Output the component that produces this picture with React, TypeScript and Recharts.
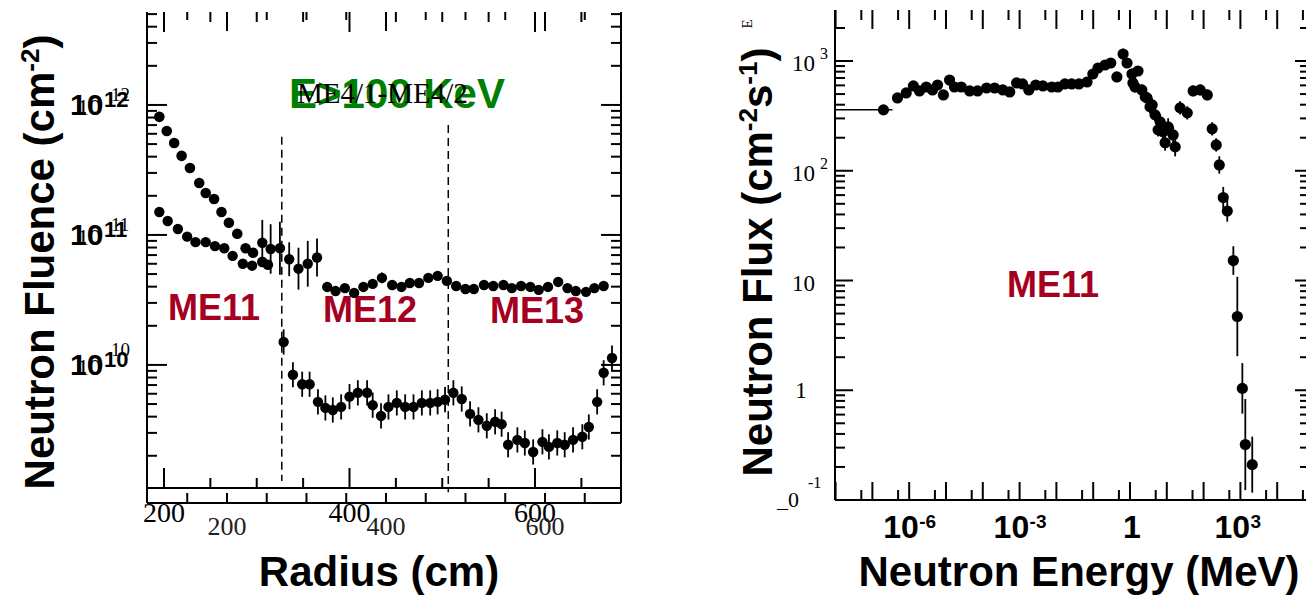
import React from "react";
import { ComposedChart, Scatter, XAxis, YAxis, ErrorBar, ReferenceLine } from "recharts";

const SANS = "'Liberation Sans', Arial, sans-serif";
const SERIF = "'Liberation Serif', 'Times New Roman', serif";
const CRIMSON = "#a50021";
const GREEN = "#008000";

// ---------- left panel: neutron fluence vs radius ----------
// steep ME11 branch
const me11Radius = [195, 203, 211, 219, 228, 238, 245, 254, 262, 270, 279, 288, 296, 306, 312];
const me11Fluence = [8.1e11, 6.3e11, 5.1e11, 4.06e11, 3.27e11, 2.51e11, 2.1e11, 1.89e11, 1.5e11, 1.24e11, 1.02e11, 7.9e10, 7.3e10, 6.2e10, 5.9e10];

// upper circles (E > 100 keV)
const ringRadius = [195, 204, 215, 225, 234, 245, 255, 265, 274, 285, 295, 306, 315, 325, 335, 345, 355, 365, 376, 385, 395, 405, 415, 425, 435, 446, 456, 465, 475, 485, 495, 505, 515, 525, 534, 545, 555, 566, 575, 585, 595, 604, 614, 625, 635, 644, 655, 664, 674];
const ringFluence = [1.5e11, 1.28e11, 1.11e11, 9.7e10, 8.8e10, 8.8e10, 8.2e10, 7.9e10, 6.9e10, 6.0e10, 5.8e10, 8.7e10, 7.8e10, 7.9e10, 6.5e10, 5.5e10, 6.0e10, 6.7e10, 3.98e10, 3.7e10, 3.9e10, 3.58e10, 3.98e10, 4.2e10, 4.67e10, 4.12e10, 3.98e10, 4.27e10, 4.27e10, 4.67e10, 4.84e10, 4.43e10, 4.05e10, 3.84e10, 3.84e10, 4.12e10, 4.05e10, 4.12e10, 3.9e10, 4.05e10, 3.98e10, 3.78e10, 3.98e10, 4.35e10, 3.9e10, 3.7e10, 3.65e10, 3.9e10, 4.05e10];
const ringErr = [1, 1, 1, 1, 1, 1, 1, 1, 1, 1, 1, 1.5, 1.55, 1.6, 1.35, 1.45, 1.5, 1.4, 1.05, 1.05, 1.05, 1.05, 1.05, 1.05, 1.1, 1.05, 1.05, 1.05, 1.05, 1.05, 1.08, 1.05, 1.05, 1.05, 1.05, 1.05, 1.05, 1.05, 1.05, 1.08, 1.05, 1.05, 1.05, 1.05, 1.05, 1.05, 1.05, 1.05, 1.05];

// lower series (ME4/1-ME4/2)
const lowRadius = [329, 339, 349, 357, 366, 374, 382, 391, 400, 409, 419, 425, 434, 442, 451, 460, 469, 478, 487, 495, 503, 512, 521, 530, 539, 548, 557, 564, 571, 581, 589, 598, 608, 615, 624, 632, 641, 651, 658, 667, 674, 683];
const lowFluence = [1.5e10, 8.4e9, 7.1e9, 7.1e9, 5.2e9, 4.67e9, 4.5e9, 4.75e9, 5.7e9, 6.1e9, 6.1e9, 4.9e9, 4.05e9, 4.75e9, 5.1e9, 4.75e9, 4.75e9, 5.1e9, 5.1e9, 5.2e9, 5.4e9, 6.1e9, 5.47e9, 4.2e9, 3.78e9, 3.4e9, 3.65e9, 3.5e9, 2.43e9, 2.65e9, 2.51e9, 2.14e9, 2.56e9, 2.34e9, 2.51e9, 2.43e9, 2.65e9, 2.8e9, 3.33e9, 5.2e9, 8.7e9, 1.13e10];
const lowErrY = 1.25;
const lowErrX = 5;

const chamberEdges = [327, 506.5];
const radiusTicks = [200, 250, 300, 350, 400, 450, 500, 550, 600, 650];
const radiusTicks2 = [150, 200, 250, 300, 350, 400, 450, 500, 550, 600, 650];
const radiusLabels = [200, 400, 600];
const fluenceDecades = [9, 10, 11, 12];
const fluenceLabels = [10, 11, 12];

// ---------- right panel: neutron flux vs energy ----------
const energy = [2.0e-7, 4.8e-7, 8.3e-7, 1.3e-6, 1.9e-6, 2.9e-6, 4.3e-6, 5.9e-6, 8.5e-6, 1.25e-5, 1.7e-5, 2.6e-5, 4.4e-5, 7.2e-5, 1.27e-4, 2.1e-4, 3.5e-4, 5.4e-4, 8.3e-4, 1.2e-3, 1.78e-3, 2.75e-3, 4.3e-3, 7.5e-3, 0.011, 0.017, 0.026, 0.041, 0.068, 0.098, 0.135, 0.21, 0.3, 0.44, 0.65, 0.83, 1.13, 1.65, 1.37, 2.1, 2.9, 4.0, 4.8, 6.6, 7.9, 10.9, 14.9, 16.9, 23, 36, 52, 81, 126, 171, 220, 267, 342, 440, 643, 825, 1130, 1360, 2100, 2.6, 5.8, 9.0, 3.5, 1.2];
const flux = [359, 461, 512, 593, 534, 580, 545, 605, 491, 671, 580, 580, 534, 534, 568, 568, 545, 523, 631, 618, 545, 605, 593, 580, 580, 618, 618, 618, 644, 762, 863, 920, 959, 716, 1158, 959, 762, 811, 580, 545, 461, 398, 323, 279, 226, 251, 212, 165, 374, 337, 534, 545, 491, 241, 172, 113, 57, 43, 15.2, 4.7, 1.04, 0.32, 0.21, 471, 236, 180, 382, 631];
const fluxErr = [1.04, 1.05, 1.05, 1.06, 1.06, 1.06, 1.06, 1.06, 1.06, 1.06, 1.06, 1.06, 1.06, 1.06, 1.06, 1.06, 1.06, 1.06, 1.06, 1.06, 1.06, 1.06, 1.06, 1.06, 1.06, 1.06, 1.06, 1.06, 1.06, 1.07, 1.07, 1.07, 1.08, 1.1, 1.12, 1.1, 1.12, 1.1, 1.12, 1.12, 1.12, 1.15, 1.15, 1.18, 1.2, 1.2, 1.2, 1.22, 1.15, 1.15, 1.12, 1.12, 1.12, 1.15, 1.15, 1.2, 1.25, 1.25, 1.35, 2.3, 1.7, 2.6, 1.8, 1.12, 1.15, 1.18, 1.15, 1.12];
const firstBin = [1.9e-7, 1.5e-7];
const energyDecades = [-9, -8, -7, -6, -5, -4, -3, -2, -1, 0, 1, 2, 3, 4];
const energyLabels: [number, string, string][] = [[1e-6, "10", "-6"], [1e-3, "10", "-3"], [1, "1", ""], [1e3, "10", "3"]];
const fluxDecades = [-1, 0, 1, 2, 3];

// ---------- derived tables ----------
const me11Data = me11Radius.map((r, i) => ({ r, v: me11Fluence[i] }));
const ringData = ringRadius.map((r, i) => {
  const v = ringFluence[i];
  const f = ringErr[i];
  return { r, v, ey: [v - v / f, v * f - v] };
});
const lowData = lowRadius.map((r, i) => {
  const v = lowFluence[i];
  return { r, v, ey: [v - v / lowErrY, v * lowErrY - v], ex: lowErrX };
});
const fluxData = energy.map((e, i) => {
  const f = flux[i];
  const k = fluxErr[i];
  return { e, f, ey: [f - f / k, f * k - f], ex: i === 0 ? firstBin : [0, 0] };
});

const FL_DOMAIN: [number, number] = [1.13e9, 5.19e12];
const R_DOMAIN: [number, number] = [181.7, 692.7];
const R2_DOMAIN: [number, number] = [99.4, 695.6];
const E_DOMAIN: [number, number] = [9.64e-9, 68700];
const F_DOMAIN: [number, number] = [0.1, 2917];
// plot-box sizes that follow from the margins / axis sizes below
const LW = 474, LH = 476;
const RW = 473, RH = 490;

const isDecade = (v: number) => Math.abs(Math.log10(v) - Math.round(Math.log10(v))) < 1e-6;
const logTicks = (decades: number[], mult: number[], lo: number, hi: number) =>
  decades.flatMap((k) => mult.map((m) => m * Math.pow(10, k))).filter((v) => v >= lo * 0.9999 && v <= hi);

const fluenceTicks = logTicks(fluenceDecades, [1, 2, 3, 4, 5, 6, 7, 8, 9], ...FL_DOMAIN);
const fluxTicks = logTicks(fluxDecades, [1, 2, 3, 4, 5, 6, 7, 8, 9], ...F_DOMAIN);
const energyTicks = logTicks(energyDecades, [1, 5], ...E_DOMAIN);

const logMove = (v: number, d: [number, number], span: number, px: number) =>
  v * Math.pow(10, (px * Math.log10(d[1] / d[0])) / span);
const linLen = (d: [number, number], span: number, px: number) => (px * (d[1] - d[0])) / span;
const r2ToR = (t: number) => R_DOMAIN[0] + ((t - R2_DOMAIN[0]) * (R_DOMAIN[1] - R_DOMAIN[0])) / (R2_DOMAIN[1] - R2_DOMAIN[0]);

// frame tick marks, drawn as error bars of invisible points that sit just inside the frame
const [R0, R1] = R_DOMAIN;
const [FL0, FL1] = FL_DOMAIN;
const Z = [0, 0];
const fluenceFrameTicks = [
  ...fluenceTicks.map((v) => {
    const d = linLen(R_DOMAIN, LW, isDecade(v) ? 20 : 10);
    return { r: R0 + d, v, ex: [d, 0], ey: Z };
  }),
  ...fluenceTicks.map((v) => {
    const d = linLen(R_DOMAIN, LW, isDecade(v) ? 20 : 10);
    return { r: R1 - d, v, ex: [0, d], ey: Z };
  }),
  ...radiusTicks.map((t) => {
    const a = logMove(FL0, FL_DOMAIN, LH, radiusLabels.includes(t) ? 20 : 10);
    return { r: t, v: a, ex: Z, ey: [a - FL0, 0] };
  }),
  ...radiusTicks.map((t) => {
    const a = logMove(FL1, FL_DOMAIN, LH, radiusLabels.includes(t) ? -20 : -10);
    return { r: t, v: a, ex: Z, ey: [0, FL1 - a] };
  }),
  ...radiusTicks2.map((t) => {
    const a = logMove(FL1, FL_DOMAIN, LH, radiusLabels.includes(t) ? -19 : -8);
    return { r: r2ToR(t), v: a, ex: Z, ey: [0, FL1 - a] };
  }),
];
const [E0, E1] = E_DOMAIN;
const [F0, F1] = F_DOMAIN;
const fluxFrameTicks = [
  ...fluxTicks.map((f) => {
    const a = logMove(E0, E_DOMAIN, RW, isDecade(f) ? 18 : 10);
    return { e: a, f, ex: [a - E0, 0], ey: Z };
  }),
  ...fluxTicks.map((f) => {
    const a = logMove(E1, E_DOMAIN, RW, isDecade(f) ? -13 : -8);
    return { e: a, f, ex: [0, E1 - a], ey: Z };
  }),
  ...energyTicks.map((e) => {
    const a = logMove(F0, F_DOMAIN, RH, isDecade(e) ? 18 : 10);
    return { e, f: a, ex: Z, ey: [a - F0, 0] };
  }),
  ...energyTicks.map((e) => {
    const a = logMove(F1, F_DOMAIN, RH, isDecade(e) ? -19 : -10);
    return { e, f: a, ex: Z, ey: [0, F1 - a] };
  }),
];

const dot = (r: number) => (p: any) => <circle cx={p.cx} cy={p.cy} r={r} fill="#000" />;
const noShape = () => <g />;
const AX = { stroke: "#000", strokeWidth: 2 };
const NOTICK = { tickSize: 0, tickMargin: 0, tickLine: false, interval: 0 as const };

// ---------- tick label renderers ----------
function FluenceLabel(p: any) {
  const x = Number(p.x);
  const y = Number(p.y);
  const v = p.payload.value;
  const e = Math.round(Math.log10(v));
  if (!isDecade(v) || !fluenceLabels.includes(e)) return <g />;
  return (
    <g>
      <text x={x - 77} y={y + 10} fontFamily={SANS} fontWeight="bold" fontSize={30}>10</text>
      <text x={x - 43} y={y + 2} fontFamily={SANS} fontWeight="bold" fontSize={22}>{e}</text>
      <text x={x - 70} y={y + 10} fontFamily={SERIF} fontSize={24}>10</text>
      <text x={x - 36} y={y - (e === 10 ? 9 : 4)} fontFamily={SERIF} fontSize={19}>{e}</text>
    </g>
  );
}
function RadiusLabel(p: any) {
  if (!radiusLabels.includes(p.payload.value)) return <g />;
  return (
    <text x={Number(p.x)} y={Number(p.y) + 34} textAnchor="middle" fontFamily={SERIF} fontSize={28}>{p.payload.value}</text>
  );
}
function RadiusLabel2(p: any) {
  if (!radiusLabels.includes(p.payload.value)) return <g />;
  return (
    <text x={Number(p.x)} y={Number(p.y) + 32} textAnchor="middle" fontFamily={SERIF} fontSize={26} fill="#222">{p.payload.value}</text>
  );
}
function FluxLabel(p: any) {
  const x = Number(p.x);
  const y = Number(p.y);
  const v = p.payload.value;
  if (!isDecade(v)) return <g />;
  const e = Math.round(Math.log10(v));
  if (e >= 2)
    return (
      <g fontFamily={SERIF}>
        <text x={x - 20} y={y + 10} textAnchor="end" fontSize={23}>10</text>
        <text x={x - 15} y={y - 2} fontSize={16}>{e}</text>
      </g>
    );
  if (e === 1) return <text x={x - 20} y={y + 10} textAnchor="end" fontFamily={SERIF} fontSize={23}>10</text>;
  if (e === 0) return <text x={x - 34} y={y + 8} textAnchor="middle" fontFamily={SERIF} fontSize={23}>1</text>;
  return (
    <g fontFamily={SERIF}>
      <text x={x - 27} y={y - 12} fontSize={16}>-1</text>
      <text x={x - 58} y={y + 7} fontSize={22}>_0</text>
    </g>
  );
}
function EnergyLabel(p: any) {
  const x = Number(p.x);
  const y = Number(p.y);
  const v = p.payload.value;
  const lab = energyLabels.find((l) => Math.abs(Math.log10(l[0]) - Math.log10(v)) < 1e-6);
  if (!lab) return <g />;
  if (lab[2] === "")
    return <text x={x + 2} y={y + 38} textAnchor="middle" fontFamily={SANS} fontWeight="bold" fontSize={32}>{lab[1]}</text>;
  return (
    <g fontFamily={SANS} fontWeight="bold">
      <text x={x - 26} y={y + 38} fontSize={32}>{lab[1]}</text>
      <text x={x + 10} y={y + 28} fontSize={19}>{lab[2]}</text>
    </g>
  );
}

// the second, overlaid radius scale: its lower axis line sits 15 px under the frame
function secondAxis() {
  const yb = logMove(FL0, FL_DOMAIN, LH, -15);
  const yt = logMove(FL0, FL_DOMAIN, LH, -5);
  const out: React.ReactNode[] = [
    <ReferenceLine key="r2axis" segment={[{ x: R0, y: yb }, { x: R1, y: yb }]} ifOverflow="visible" stroke="#000" strokeWidth={2} />,
    <ReferenceLine key="r2l" segment={[{ x: R0, y: FL0 }, { x: R0, y: yb }]} ifOverflow="visible" stroke="#000" strokeWidth={2} />,
    <ReferenceLine key="r2r" segment={[{ x: R1, y: FL0 }, { x: R1, y: yb }]} ifOverflow="visible" stroke="#000" strokeWidth={2} />,
  ];
  radiusTicks2.forEach((t) => {
    const x = r2ToR(t);
    out.push(
      <ReferenceLine key={`r2b${t}`} segment={[{ x, y: yt }, { x, y: yb }]} ifOverflow="visible" stroke="#000" strokeWidth={2} />
    );
  });
  return out;
}

function FluencePanel() {
  return (
    <ComposedChart width={640} height={598} margin={{ top: 12, right: 0, bottom: 0, left: 0 }}>
      <XAxis xAxisId={0} dataKey="r" type="number" scale="linear" domain={R_DOMAIN} allowDataOverflow
        ticks={radiusTicks} height={15} {...NOTICK} axisLine={AX} tick={(p: any) => <RadiusLabel {...p} />} />
      <XAxis xAxisId="b" dataKey="r" type="number" scale="linear" domain={R2_DOMAIN} allowDataOverflow
        ticks={radiusTicks2} height={95} {...NOTICK} axisLine={false} tick={(p: any) => <RadiusLabel2 {...p} />} />
      <XAxis xAxisId="t" dataKey="r" orientation="top" type="number" scale="linear" domain={R_DOMAIN} allowDataOverflow
        ticks={radiusTicks} height={0} {...NOTICK} axisLine={AX} tick={false} />
      <YAxis yAxisId={0} dataKey="v" type="number" scale="log" domain={FL_DOMAIN} allowDataOverflow
        ticks={fluenceTicks} width={147} {...NOTICK} axisLine={AX} tick={(p: any) => <FluenceLabel {...p} />} />
      <YAxis yAxisId="r" dataKey="v" orientation="right" type="number" scale="log" domain={FL_DOMAIN} allowDataOverflow
        ticks={fluenceTicks} width={19} {...NOTICK} axisLine={AX} tick={false} />
      {secondAxis()}
      {chamberEdges.map((r, i) => (
        <ReferenceLine key={`edge${r}`} ifOverflow="visible" stroke="#000" strokeWidth={1.5} strokeDasharray="8 5"
          segment={[{ x: r, y: i === 0 ? 5.7e11 : 7.0e11 }, { x: r, y: i === 0 ? 1.28e9 : 1.05e9 }]} />
      ))}
      <Scatter data={me11Data} isAnimationActive={false} shape={dot(5.3)} />
      <Scatter data={ringData} isAnimationActive={false} shape={dot(5.2)}>
        <ErrorBar dataKey="ey" direction="y" width={0} stroke="#000" strokeWidth={1.8} isAnimationActive={false} />
      </Scatter>
      <Scatter data={lowData} isAnimationActive={false} shape={dot(5.2)}>
        <ErrorBar dataKey="ey" direction="y" width={0} stroke="#000" strokeWidth={1.8} isAnimationActive={false} />
        <ErrorBar dataKey="ex" direction="x" width={0} stroke="#000" strokeWidth={1.8} isAnimationActive={false} />
      </Scatter>
      <Scatter data={fluenceFrameTicks} isAnimationActive={false} shape={noShape}>
        <ErrorBar dataKey="ex" direction="x" width={0} stroke="#000" strokeWidth={2} isAnimationActive={false} />
        <ErrorBar dataKey="ey" direction="y" width={0} stroke="#000" strokeWidth={2} isAnimationActive={false} />
      </Scatter>
    </ComposedChart>
  );
}

function FluxPanel() {
  return (
    <ComposedChart width={660} height={598} margin={{ top: 10, right: 0, bottom: 0, left: 0 }}>
      <XAxis xAxisId={0} dataKey="e" type="number" scale="log" domain={E_DOMAIN} allowDataOverflow
        ticks={energyTicks} height={98} {...NOTICK} axisLine={AX} tick={(p: any) => <EnergyLabel {...p} />} />
      <XAxis xAxisId="t" dataKey="e" orientation="top" type="number" scale="log" domain={E_DOMAIN} allowDataOverflow
        ticks={energyTicks} height={0} {...NOTICK} axisLine={AX} tick={false} />
      <YAxis yAxisId={0} dataKey="f" type="number" scale="log" domain={F_DOMAIN} allowDataOverflow
        ticks={fluxTicks} width={175} {...NOTICK} axisLine={AX} tick={(p: any) => <FluxLabel {...p} />} />
      <YAxis yAxisId="r" dataKey="f" orientation="right" type="number" scale="log" domain={F_DOMAIN} allowDataOverflow
        ticks={fluxTicks} width={12} {...NOTICK} axisLine={AX} tick={false} />
      <Scatter data={fluxData} isAnimationActive={false} shape={dot(5.6)}>
        <ErrorBar dataKey="ey" direction="y" width={0} stroke="#000" strokeWidth={1.8} isAnimationActive={false} />
        <ErrorBar dataKey="ex" direction="x" width={0} stroke="#000" strokeWidth={1.5} isAnimationActive={false} />
      </Scatter>
      <Scatter data={fluxFrameTicks} isAnimationActive={false} shape={noShape}>
        <ErrorBar dataKey="ex" direction="x" width={0} stroke="#000" strokeWidth={2} isAnimationActive={false} />
        <ErrorBar dataKey="ey" direction="y" width={0} stroke="#000" strokeWidth={2} isAnimationActive={false} />
      </Scatter>
    </ComposedChart>
  );
}

export default function App() {
  return (
    <div style={{ position: "absolute", left: 0, top: 0, width: 1306, height: 598, overflow: "hidden", background: "#fff" }}>
      {/* free text sits underneath the (transparent) charts */}
      <svg width={1306} height={598} style={{ position: "absolute", left: 0, top: 0 }}>
        <text x={289} y={108} fontFamily={SANS} fontWeight="bold" fontSize={42} fill={GREEN}>E&gt;100 KeV</text>
        <text x={297} y={103} fontFamily={SERIF} fontSize={29} fill="#000">ME4/1-ME4/2</text>
        <text x={168} y={320} fontFamily={SANS} fontWeight="bold" fontSize={36} fill={CRIMSON}>ME11</text>
        <text x={323} y={322} fontFamily={SANS} fontWeight="bold" fontSize={36} fill={CRIMSON}>ME12</text>
        <text x={490} y={323} fontFamily={SANS} fontWeight="bold" fontSize={36} fill={CRIMSON}>ME13</text>
        <text x={1007} y={297} fontFamily={SANS} fontWeight="bold" fontSize={36} fill={CRIMSON}>ME11</text>
        <text transform="translate(54,262) rotate(-90)" textAnchor="middle" fontFamily={SANS} fontWeight="bold" fontSize={42}>
          Neutron Fluence (cm<tspan dy={-15} fontSize={26}>-2</tspan><tspan dy={15}>)</tspan>
        </text>
        <text transform="translate(772,262) rotate(-90)" textAnchor="middle" fontFamily={SANS} fontWeight="bold" fontSize={42}>
          Neutron Flux (cm<tspan dy={-15} fontSize={26}>-2</tspan><tspan dy={15}>s</tspan><tspan dy={-15} fontSize={26}>-1</tspan><tspan dy={15}>)</tspan>
        </text>
        <text transform="translate(752,24) rotate(-90)" textAnchor="middle" fontFamily={SERIF} fontSize={15}>E</text>
        <text x={379} y={586} textAnchor="middle" fontFamily={SANS} fontWeight="bold" fontSize={42}>Radius (cm)</text>
        <text x={1079} y={586} textAnchor="middle" fontFamily={SANS} fontWeight="bold" fontSize={42}>Neutron Energy (MeV)</text>
      </svg>
      <div style={{ position: "absolute", left: 0, top: 0 }}>
        <FluencePanel />
      </div>
      <div style={{ position: "absolute", left: 660, top: 0 }}>
        <FluxPanel />
      </div>
    </div>
  );
}
